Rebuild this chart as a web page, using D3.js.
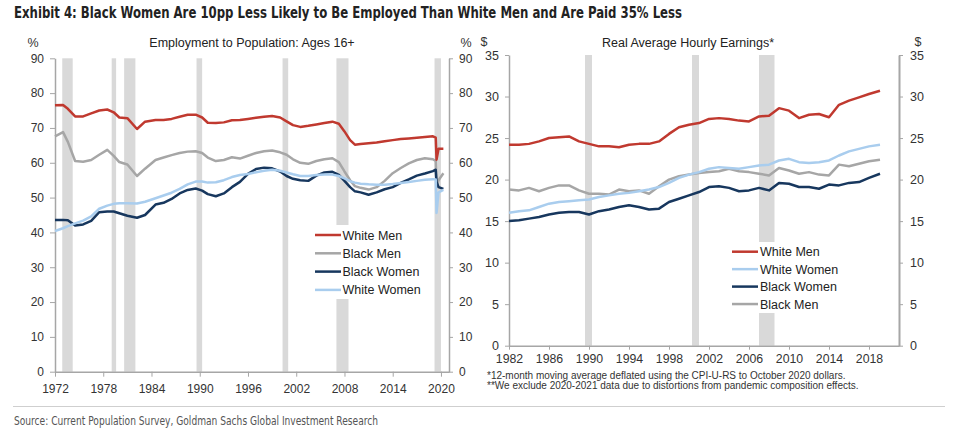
<!DOCTYPE html>
<html>
<head>
<meta charset="utf-8">
<script src="https://cdn.jsdelivr.net/npm/d3@7"></script>
<style>
  html, body { margin: 0; padding: 0; background: #fff; }
  svg { display: block; }
  .axis text { font-family: "Liberation Sans", Arial, sans-serif; fill: #333; }
  .axis path, .axis line { stroke: #a6a6a6; }
</style>
</head>
<body>
<svg id="chart" width="960" height="438"></svg>
<script>
// ---------- Left chart: Employment to Population (%), Ages 16+ ----------
const empYears = [1972, 1973, 1973.6, 1974.5, 1975.5, 1976.5, 1977.5, 1978.5, 1979.3, 1980, 1981, 1982.2, 1983.2, 1984.5, 1985.5, 1986.5, 1987.5, 1988.5, 1989.5, 1990.3, 1991, 1992, 1993, 1994, 1995, 1996, 1997, 1998, 1999, 2000, 2000.8, 2001.6, 2002.5, 2003.5, 2004.5, 2005.5, 2006.5, 2007.3, 2008, 2008.7, 2009.3, 2010, 2011, 2012, 2013, 2014, 2015, 2016, 2017, 2018, 2019, 2019.35, 2019.45, 2019.7, 2020.3];
const empWhiteMen   = [76.5, 76.6, 75.5, 73.3, 73.3, 74.2, 75.0, 75.3, 74.5, 73.0, 72.8, 69.7, 71.8, 72.3, 72.3, 72.6, 73.2, 73.8, 73.8, 73.0, 71.5, 71.4, 71.6, 72.2, 72.3, 72.6, 72.9, 73.2, 73.4, 73.0, 71.9, 70.8, 70.3, 70.6, 71.0, 71.4, 71.8, 71.2, 69.0, 66.5, 65.2, 65.4, 65.6, 65.8, 66.2, 66.5, 66.8, 67.0, 67.2, 67.4, 67.6, 67.2, 60.9, 64.0, 64.0];
const empBlackMen   = [67.6, 68.8, 66.0, 60.5, 60.3, 60.8, 62.3, 63.7, 62.0, 60.2, 59.5, 56.2, 58.3, 60.8, 61.5, 62.2, 62.8, 63.2, 63.3, 62.8, 61.5, 60.5, 60.8, 61.6, 61.2, 62.0, 62.8, 63.3, 63.5, 63.0, 62.3, 61.0, 60.0, 59.7, 60.5, 61.0, 61.3, 60.2, 57.5, 55.0, 53.3, 52.8, 52.3, 53.0, 54.8, 57.0, 58.5, 59.8, 60.8, 61.3, 61.0, 60.5, 53.0, 55.0, 57.0];
const empBlackWomen = [43.6, 43.6, 43.5, 42.0, 42.3, 43.3, 45.8, 46.0, 46.0, 45.5, 44.8, 44.2, 45.0, 48.0, 48.5, 49.6, 51.2, 52.2, 52.6, 52.0, 51.0, 50.4, 51.2, 53.0, 54.5, 56.8, 58.2, 58.6, 58.4, 57.5, 56.2, 55.4, 55.0, 54.8, 56.3, 57.2, 57.4, 56.5, 54.8, 53.0, 51.8, 51.5, 50.8, 51.5, 52.4, 53.0, 54.2, 55.2, 56.3, 56.9, 57.6, 58.0, 54.5, 53.0, 52.5];
const empWhiteWomen = [40.4, 41.2, 41.8, 42.6, 43.4, 44.6, 46.8, 47.7, 48.2, 48.4, 48.4, 48.3, 48.8, 49.8, 50.6, 51.4, 52.5, 53.8, 54.6, 54.6, 54.3, 54.4, 55.0, 55.9, 56.5, 56.8, 57.3, 57.7, 58.0, 57.7, 57.2, 56.7, 56.2, 56.2, 56.5, 56.6, 56.6, 56.2, 55.5, 54.7, 54.3, 54.0, 53.8, 53.7, 53.7, 53.9, 54.2, 54.5, 54.8, 55.1, 55.3, 55.2, 45.6, 51.5, 52.2];
const empTicksX = [1972, 1978, 1984, 1990, 1996, 2002, 2008, 2014, 2020];
const empTicksY = [0, 10, 20, 30, 40, 50, 60, 70, 80, 90];
const empRecessions = [[1972.9, 1974.2], [1979.05, 1979.6], [1980.6, 1982.0], [1989.6, 1990.3], [2000.3, 2001.0], [2007.0, 2008.5], [2019.2, 2020.0]];

// ---------- Right chart: Real Average Hourly Earnings ($) ----------
const earnYears = [1982, 1983, 1984, 1985, 1986, 1987, 1988, 1989, 1990, 1991, 1992, 1993, 1994, 1995, 1996, 1997, 1998, 1999, 2000, 2001, 2002, 2003, 2004, 2005, 2006, 2007, 2008, 2009, 2010, 2011, 2012, 2013, 2014, 2015, 2016, 2017, 2018, 2019.1];
const earnWhiteMen   = [24.2, 24.2, 24.3, 24.6, 25.0, 25.1, 25.2, 24.6, 24.3, 24.0, 24.0, 23.9, 24.2, 24.3, 24.3, 24.6, 25.5, 26.3, 26.6, 26.8, 27.3, 27.4, 27.3, 27.1, 27.0, 27.6, 27.7, 28.6, 28.3, 27.4, 27.8, 27.9, 27.5, 29.0, 29.5, 29.9, 30.3, 30.7];
const earnWhiteWomen = [16.0, 16.2, 16.3, 16.7, 17.1, 17.3, 17.4, 17.5, 17.6, 17.9, 18.1, 18.3, 18.4, 18.6, 18.8, 19.1, 19.6, 20.2, 20.6, 20.9, 21.3, 21.5, 21.4, 21.3, 21.5, 21.7, 21.8, 22.3, 22.5, 22.1, 22.0, 22.1, 22.3, 22.9, 23.4, 23.7, 24.0, 24.2];
const earnBlackWomen = [15.0, 15.1, 15.3, 15.5, 15.8, 16.0, 16.1, 16.1, 15.8, 16.2, 16.4, 16.7, 16.9, 16.7, 16.4, 16.5, 17.3, 17.7, 18.1, 18.5, 19.1, 19.2, 19.0, 18.6, 18.7, 19.0, 18.7, 19.6, 19.5, 19.1, 19.1, 18.9, 19.4, 19.3, 19.6, 19.7, 20.2, 20.7];
const earnBlackMen   = [18.8, 18.7, 19.0, 18.6, 19.0, 19.3, 19.3, 18.7, 18.3, 18.3, 18.2, 18.8, 18.6, 18.7, 18.3, 19.2, 20.0, 20.4, 20.6, 20.8, 20.9, 21.0, 21.3, 21.0, 20.9, 20.7, 20.5, 21.4, 21.1, 20.7, 20.9, 20.6, 20.5, 21.8, 21.6, 21.9, 22.2, 22.4];
const earnTicksX = [1982, 1986, 1990, 1994, 1998, 2002, 2006, 2010, 2014, 2018];
const earnTicksY = [0, 5, 10, 15, 20, 25, 30, 35];
const earnRecessions = [[1989.6, 1990.3], [2000.3, 2001.0], [2007.0, 2008.55]];

// ---------- Text ----------
const titleText = "Exhibit 4: Black Women Are 10pp Less Likely to Be Employed Than White Men and Are Paid 35% Less";
const leftTitle = "Employment to Population: Ages 16+";
const rightTitle = "Real Average Hourly Earnings*";
const footnotes = ["*12-month moving average deflated using the CPI-U-RS to October 2020 dollars.",
                   "**We exclude 2020-2021 data due to distortions from pandemic composition effects."];
const sourceText = "Source: Current Population Survey, Goldman Sachs Global Investment Research";

const colors = { wm: "#c0392f", bm: "#a6a6a6", bw: "#17375e", ww: "#a9cdee" };
const recessionColor = "#d9d9d9";
const FONT = '"Liberation Sans", Arial, sans-serif';
const NARROW = '"Liberation Sans Narrow", "Arial Narrow", "DejaVu Sans Condensed", sans-serif';

const svg = d3.select("#chart");
svg.append("rect").attr("width", 960).attr("height", 438).attr("fill", "#fff");

// Title
svg.append("text").attr("x", 14).attr("y", 18)
  .attr("font-family", NARROW).attr("font-weight", "bold").attr("font-size", 15)
  .attr("fill", "#222").attr("textLength", 668).attr("lengthAdjust", "spacingAndGlyphs")
  .text(titleText);

// ---------------- LEFT CHART ----------------
const xL = d3.scaleLinear().domain([1972, 2021]).range([55, 449]);
const yL = d3.scaleLinear().domain([0, 90]).range([371.7, 58.3]);
const gL = svg.append("g");

gL.selectAll("rect.rec").data(empRecessions).join("rect")
  .attr("x", d => xL(d[0])).attr("width", d => xL(d[1]) - xL(d[0]))
  .attr("y", yL(90)).attr("height", yL(0) - yL(90)).attr("fill", recessionColor);

const axL = gL.append("g").attr("class", "axis").attr("transform", `translate(${xL(1972)},0)`)
  .call(d3.axisLeft(yL).tickValues(empTicksY).tickSize(5).tickPadding(6).tickSizeOuter(0));
const axR = gL.append("g").attr("class", "axis").attr("transform", `translate(${xL(2021)},0)`)
  .call(d3.axisRight(yL).tickValues(empTicksY).tickSize(4).tickPadding(6).tickSizeOuter(0));
const axB = gL.append("g").attr("class", "axis").attr("transform", `translate(0,${yL(0)})`)
  .call(d3.axisBottom(xL).tickValues(empTicksX).tickFormat(d3.format("d")).tickSize(5).tickPadding(6).tickSizeOuter(0));
[axL, axR, axB].forEach(a => {
  a.selectAll("text").attr("font-size", 12).attr("font-family", FONT);
  a.select(".domain").attr("stroke-width", 1.5);
});
axB.selectAll("text").attr("dy", "0.9em");

const lineL = s => d3.line().x((d, i) => xL(empYears[i])).y(d => yL(d))(s);
[[empBlackMen, colors.bm], [empBlackWomen, colors.bw], [empWhiteWomen, colors.ww], [empWhiteMen, colors.wm]]
  .forEach(([s, c]) => gL.append("path").attr("d", lineL(s)).attr("fill", "none")
    .attr("stroke", c).attr("stroke-width", 2.5).attr("stroke-linejoin", "round"));

gL.append("text").attr("x", 33).attr("y", 47).attr("text-anchor", "middle")
  .attr("font-family", FONT).attr("font-size", 12.5).attr("fill", "#333").text("%");
gL.append("text").attr("x", 466).attr("y", 47).attr("text-anchor", "middle")
  .attr("font-family", FONT).attr("font-size", 12.5).attr("fill", "#333").text("%");
gL.append("text").attr("x", 252).attr("y", 47).attr("text-anchor", "middle")
  .attr("font-family", FONT).attr("font-size", 12.5).attr("fill", "#222").text(leftTitle);

const legL = [["White Men", colors.wm], ["Black Men", colors.bm], ["Black Women", colors.bw], ["White Women", colors.ww]];
gL.append("rect").attr("x", 311).attr("y", 225).attr("width", 117).attr("height", 74).attr("fill", "#fff");
legL.forEach(([name, c], i) => {
  const y = 235 + i * 18.3;
  gL.append("line").attr("x1", 315).attr("x2", 341).attr("y1", y).attr("y2", y)
    .attr("stroke", c).attr("stroke-width", 2.5);
  gL.append("text").attr("x", 342.5).attr("y", y).attr("dy", "0.36em")
    .attr("font-family", FONT).attr("font-size", 12.5).attr("fill", "#222").text(name);
});

// ---------------- RIGHT CHART ----------------
const xR = d3.scaleLinear().domain([1982, 2021]).range([509, 899]);
const yR = d3.scaleLinear().domain([0, 35]).range([345.7, 55]);
const gR = svg.append("g");

gR.selectAll("rect.rec").data(earnRecessions).join("rect")
  .attr("x", d => xR(d[0])).attr("width", d => xR(d[1]) - xR(d[0]))
  .attr("y", yR(35)).attr("height", yR(0) - yR(35)).attr("fill", recessionColor);

const bxL = gR.append("g").attr("class", "axis").attr("transform", `translate(${xR(1982)},0)`)
  .call(d3.axisLeft(yR).tickValues(earnTicksY).tickSize(4).tickPadding(6).tickSizeOuter(0));
const bxR = gR.append("g").attr("class", "axis").attr("transform", `translate(${xR(2021)},0)`)
  .call(d3.axisRight(yR).tickValues(earnTicksY).tickSize(4).tickPadding(7).tickSizeOuter(0));
const bxB = gR.append("g").attr("class", "axis").attr("transform", `translate(0,${yR(0)})`)
  .call(d3.axisBottom(xR).tickValues(earnTicksX).tickFormat(d3.format("d")).tickSize(4).tickPadding(4).tickSizeOuter(0));
[bxL, bxR].forEach(a => a.selectAll("text").attr("font-size", 12.5).attr("font-family", FONT));
bxB.selectAll("text").attr("font-size", 12.3).attr("font-family", FONT).attr("dy", "0.72em");
[bxL, bxR, bxB].forEach(a => a.select(".domain").attr("stroke-width", 1.5));
bxR.select(".domain").attr("stroke-width", 2);

const lineR = s => d3.line().x((d, i) => xR(earnYears[i])).y(d => yR(d))(s);
[[earnBlackMen, colors.bm], [earnBlackWomen, colors.bw], [earnWhiteWomen, colors.ww], [earnWhiteMen, colors.wm]]
  .forEach(([s, c]) => gR.append("path").attr("d", lineR(s)).attr("fill", "none")
    .attr("stroke", c).attr("stroke-width", 2.5).attr("stroke-linejoin", "round"));

gR.append("text").attr("x", 484).attr("y", 46).attr("text-anchor", "middle")
  .attr("font-family", FONT).attr("font-size", 12.5).attr("fill", "#333").text("$");
gR.append("text").attr("x", 918).attr("y", 46).attr("text-anchor", "middle")
  .attr("font-family", FONT).attr("font-size", 12.5).attr("fill", "#333").text("$");
gR.append("text").attr("x", 602).attr("y", 47).attr("text-anchor", "start")
  .attr("font-family", FONT).attr("font-size", 12.5).attr("fill", "#222").text(rightTitle);

const legR = [["White Men", colors.wm], ["White Women", colors.ww], ["Black Women", colors.bw], ["Black Men", colors.bm]];
gR.append("rect").attr("x", 728).attr("y", 242).attr("width", 122).attr("height", 71).attr("fill", "#fff");
legR.forEach(([name, c], i) => {
  const y = 251.7 + i * 17.45;
  gR.append("line").attr("x1", 732).attr("x2", 758).attr("y1", y).attr("y2", y)
    .attr("stroke", c).attr("stroke-width", 2.5);
  gR.append("text").attr("x", 760).attr("y", y).attr("dy", "0.36em")
    .attr("font-family", FONT).attr("font-size", 12.5).attr("fill", "#222").text(name);
});

footnotes.forEach((t, i) => {
  gR.append("text").attr("x", 487).attr("y", 378.5 + i * 10.7)
    .attr("font-family", FONT).attr("font-size", 10).attr("fill", "#333").text(t);
});

// ---------- Footer ----------
svg.append("line").attr("x1", 13).attr("x2", 945).attr("y1", 406.5).attr("y2", 406.5)
  .attr("stroke", "#cfcfcf").attr("stroke-width", 1);
svg.append("text").attr("x", 14).attr("y", 425)
  .attr("font-family", NARROW).attr("font-size", 12).attr("fill", "#555")
  .attr("textLength", 364).attr("lengthAdjust", "spacingAndGlyphs")
  .text(sourceText);
</script>
</body>
</html>
